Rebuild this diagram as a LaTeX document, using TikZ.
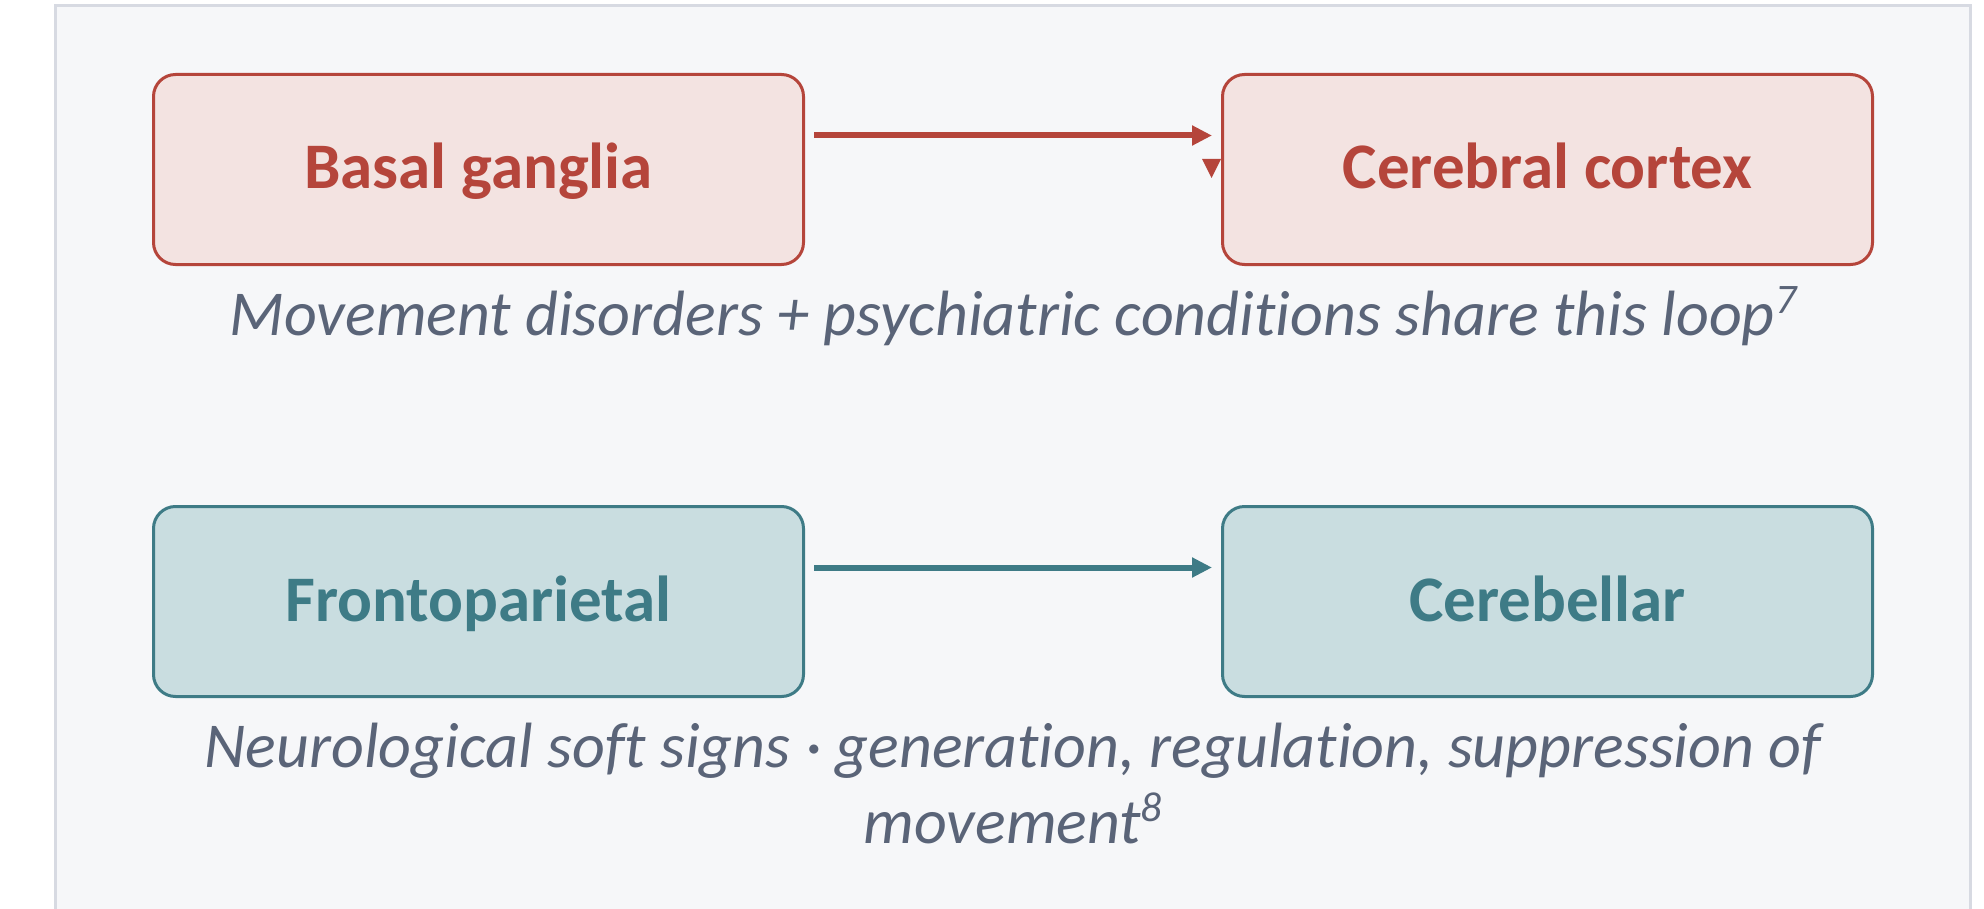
\documentclass[tikz,border=0pt]{standalone}
\usepackage{fontspec}
\setmainfont[Ligatures=NoCommon]{Carlito}
\usetikzlibrary{arrows.meta}

\definecolor{panelbg}{HTML}{F6F7F9}
\definecolor{panelline}{HTML}{D7DAE2}
\definecolor{loopred}{HTML}{B5453B}
\definecolor{loopredbg}{HTML}{F3E3E1}
\definecolor{softteal}{HTML}{3E7B86}
\definecolor{softtealbg}{HTML}{C9DDE0}
\definecolor{notegray}{HTML}{5A6478}

\newcommand{\fnmark}[1]{\raisebox{11pt}{\fontsize{21}{21}\selectfont #1}}

\tikzset{
  region/.style={draw, line width=1.5pt, rounded corners=11pt,
    minimum width=325pt, minimum height=95pt,
    text height=26pt, text depth=6.5pt,
    font=\fontsize{32.5}{40}\selectfont\bfseries},
  redbox/.style={region, draw=loopred, fill=loopredbg, text=loopred},
  tealbox/.style={region, draw=softteal, fill=softtealbg, text=softteal},
  flow/.style={line width=3pt, -{Triangle[length=10pt,width=9.5pt]}},
  note/.style={font=\fontsize{32}{38}\selectfont\itshape, text=notegray, align=center}
}

\begin{document}
\begin{tikzpicture}[x=0.5pt,y=-0.5pt]
  \useasboundingbox (0,0) rectangle (1984,909);
  % background panel
  \draw[panelline, line width=1.5pt, fill=panelbg] (55,6) rectangle (1970,940);

  % stray tip beside the upper arrow
  \fill[loopred] (1202,159) -- (1221,159) -- (1211.5,178) -- cycle;

  % top pair
  \node[redbox] (bg) at (478.5,169.5) {Basal ganglia};
  \node[redbox] (cc) at (1547.5,169.5) {Cerebral cortex};
  \draw[flow, loopred] ([shift={(4.5pt,17pt)}]bg.east) -- ([shift={(-4.5pt,17pt)}]cc.west);
  \node[note] (motor) at (1013,316) {Movement disorders + psychiatric conditions share this loop\fnmark{7}};

  % bottom pair
  \node[tealbox] (fp) at (478.5,601.5) {Frontoparietal};
  \node[tealbox] (cb) at (1547.5,601.5) {Cerebellar};
  \draw[flow, softteal] ([shift={(4.5pt,17pt)}]fp.east) -- ([shift={(-4.5pt,17pt)}]cb.west);
  \node[note] (signs) at (1013,784) {Neurological soft signs · generation, regulation, suppression of\\ movement\fnmark{8}};
\end{tikzpicture}
\end{document}
